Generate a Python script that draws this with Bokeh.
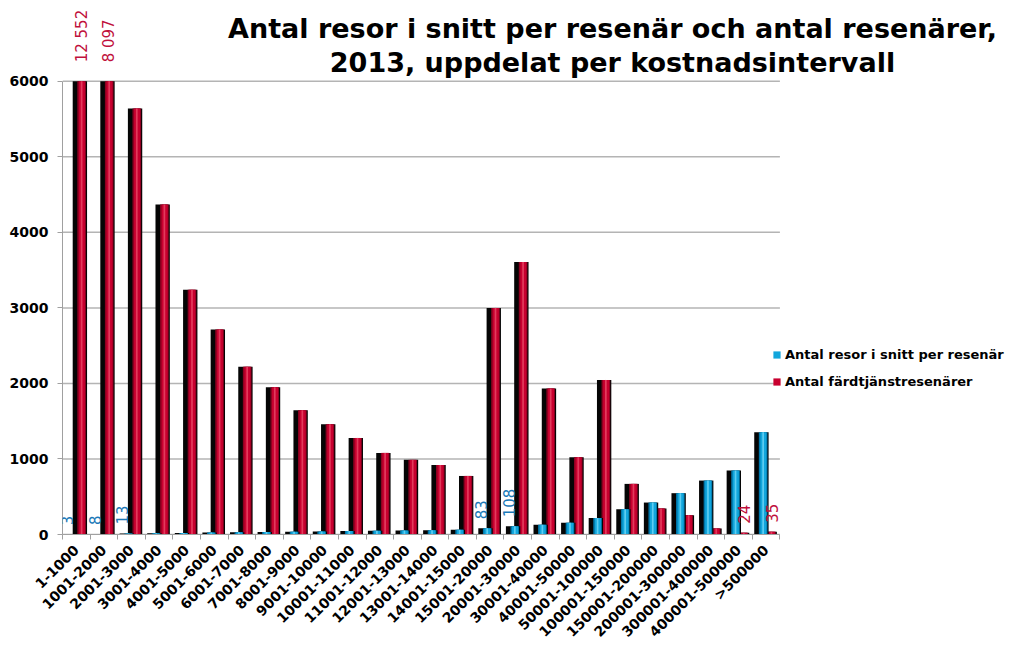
import math
import numpy as np
from bokeh.plotting import figure
from bokeh.models import Range1d, FixedTicker, Legend, LegendItem, Label
from bokeh.embed import file_html
from bokeh.resources import INLINE

categories = ["1-1000", "1001-2000", "2001-3000", "3001-4000", "4001-5000",
              "5001-6000", "6001-7000", "7001-8000", "8001-9000", "9001-10000",
              "10001-11000", "11001-12000", "12001-13000", "13001-14000",
              "14001-15000", "15001-20000", "20001-30000", "30001-40000",
              "40001-50000", "50001-100000", "100001-150000", "150001-200000",
              "200001-300000", "300001-400000", "400001-500000", ">500000"]

resor_snitt = [3, 8, 13, 17, 21, 25, 29, 33, 37, 41, 45, 49, 53, 57, 62,
               83, 108, 128, 154, 220, 335, 423, 547, 714, 847, 1354]

resenarer = [12552, 8097, 5640, 4370, 3240, 2715, 2220, 1948, 1645, 1458,
             1278, 1080, 988, 920, 775, 3000, 3608, 1932, 1023, 2046,
             670, 344, 256, 79, 24, 35]

y_ticks = [0, 1000, 2000, 3000, 4000, 5000, 6000]

series_names = ["Antal resor i snitt per resenär", "Antal färdtjänstresenärer"]

blue_labeled = [0, 1, 2, 15, 16]
red_labeled = [0, 1, 24, 25]

title_lines = ["Antal resor i snitt per resenär och antal resenärer,",
               "2013, uppdelat per kostnadsintervall"]

YMAX = 6000
FONT = "DejaVu Sans"
N = len(categories)

# frame covers the canvas right of the y labels and above the x labels,
# so that texts outside the value area are not clipped
PX_PER_CAT = 717.4 / N
X_END = -0.5 + 961 / PX_PER_CAT
Y_END = YMAX * 534 / 453.2

p = figure(width=1023, height=658, output_backend="svg", toolbar_location=None,
           title=None,
           x_range=Range1d(-0.5, X_END), y_range=Range1d(0, Y_END),
           min_border_left=62, min_border_right=0, min_border_top=0,
           min_border_bottom=124)
p.outline_line_color = None
p.background_fill_color = "white"
p.xgrid.grid_line_color = None
p.ygrid.grid_line_color = None

idx = np.arange(N)

# horizontal gridlines limited to the category area
p.segment(x0=-0.5, x1=N - 0.5, y0=y_ticks, y1=y_ticks,
          line_color="#b4b4b4", line_width=1.5)


def bar3d(xc, tops, w, dark, main, light):
    tops = np.minimum(np.asarray(tops, dtype=float), YMAX)
    p.vbar(x=xc, top=tops, width=w, bottom=0, fill_color="#050505", line_color=None)
    p.vbar(x=xc + 0.12 * w, top=tops, width=0.6 * w, bottom=0, fill_color=dark, line_color=None)
    r = p.vbar(x=xc + 0.14 * w, top=tops, width=0.42 * w, bottom=0, fill_color=main, line_color=None)
    p.vbar(x=xc + 0.12 * w, top=tops, width=0.12 * w, bottom=0, fill_color=light, line_color=None)
    return r


w = 0.52
r_red = bar3d(idx + 0.13, resenarer, w, "#8c0020", "#c8002f", "#e23a5c")
r_blue = bar3d(idx - 0.17, resor_snitt, w, "#0077aa", "#12a6dc", "#5ccdf2")

# axes
p.yaxis.bounds = (0, YMAX)
p.yaxis.ticker = FixedTicker(ticks=y_ticks)
p.yaxis.axis_line_color = "#a0a0a0"
p.yaxis.major_tick_line_color = "#a0a0a0"
p.yaxis.major_tick_out = 5
p.yaxis.major_tick_in = 0
p.yaxis.minor_tick_line_color = None
p.yaxis.major_label_text_font = FONT
p.yaxis.major_label_text_font_style = "bold"
p.yaxis.major_label_text_font_size = "14px"
p.yaxis.major_label_text_color = "black"
p.yaxis.major_label_standoff = 9

p.xaxis.bounds = (-0.5, N - 0.5)
p.xaxis.ticker = FixedTicker(ticks=list(range(N)),
                             minor_ticks=[i - 0.5 for i in range(N + 1)])
p.xaxis.major_label_overrides = {i: c for i, c in enumerate(categories)}
p.xaxis.major_label_orientation = math.pi / 4
p.xaxis.axis_line_color = "#a0a0a0"
p.xaxis.major_tick_line_color = None
p.xaxis.major_tick_out = 0
p.xaxis.major_tick_in = 0
p.xaxis.minor_tick_line_color = "#a0a0a0"
p.xaxis.minor_tick_out = 5
p.xaxis.minor_tick_in = 0
p.xaxis.major_label_text_font = FONT
p.xaxis.major_label_text_font_style = "bold"
p.xaxis.major_label_text_font_size = "14px"
p.xaxis.major_label_text_color = "black"
p.xaxis.major_label_standoff = 8

# data labels
for i in blue_labeled:
    v = resor_snitt[i]
    p.add_layout(Label(x=i - 0.33, y=min(v, YMAX), y_offset=9 if v <= YMAX else 19,
                       text=f"{v:,}".replace(",", " "), angle=math.pi / 2,
                       text_align="left", text_baseline="middle",
                       text_font=FONT, text_font_size="15px", text_color="#1a78b8"))
for i in red_labeled:
    v = resenarer[i]
    p.add_layout(Label(x=i + 0.2, y=min(v, YMAX), y_offset=9 if v <= YMAX else 19,
                       text=f"{v:,}".replace(",", " "), angle=math.pi / 2,
                       text_align="left", text_baseline="middle",
                       text_font=FONT, text_font_size="15px", text_color="#c0103c"))

# title
for k, line in enumerate(title_lines):
    p.add_layout(Label(x=550, y=506 - 34 * k, x_units="screen", y_units="screen",
                       text=line, text_align="center", text_baseline="middle",
                       text_font=FONT, text_font_style="bold", text_font_size="27px",
                       text_color="black"))

legend = Legend(items=[LegendItem(label=series_names[0], renderers=[r_blue]),
                       LegendItem(label=series_names[1], renderers=[r_red])],
                location=(710, 144), orientation="vertical",
                glyph_width=9, glyph_height=9, label_height=18, spacing=9,
                label_standoff=4, padding=0, margin=0,
                border_line_color=None, background_fill_alpha=0,
                label_text_font=FONT, label_text_font_style="bold",
                label_text_font_size="13px", label_text_color="black")
p.add_layout(legend, "center")

open("out.html", "w").write(file_html(p, INLINE))
